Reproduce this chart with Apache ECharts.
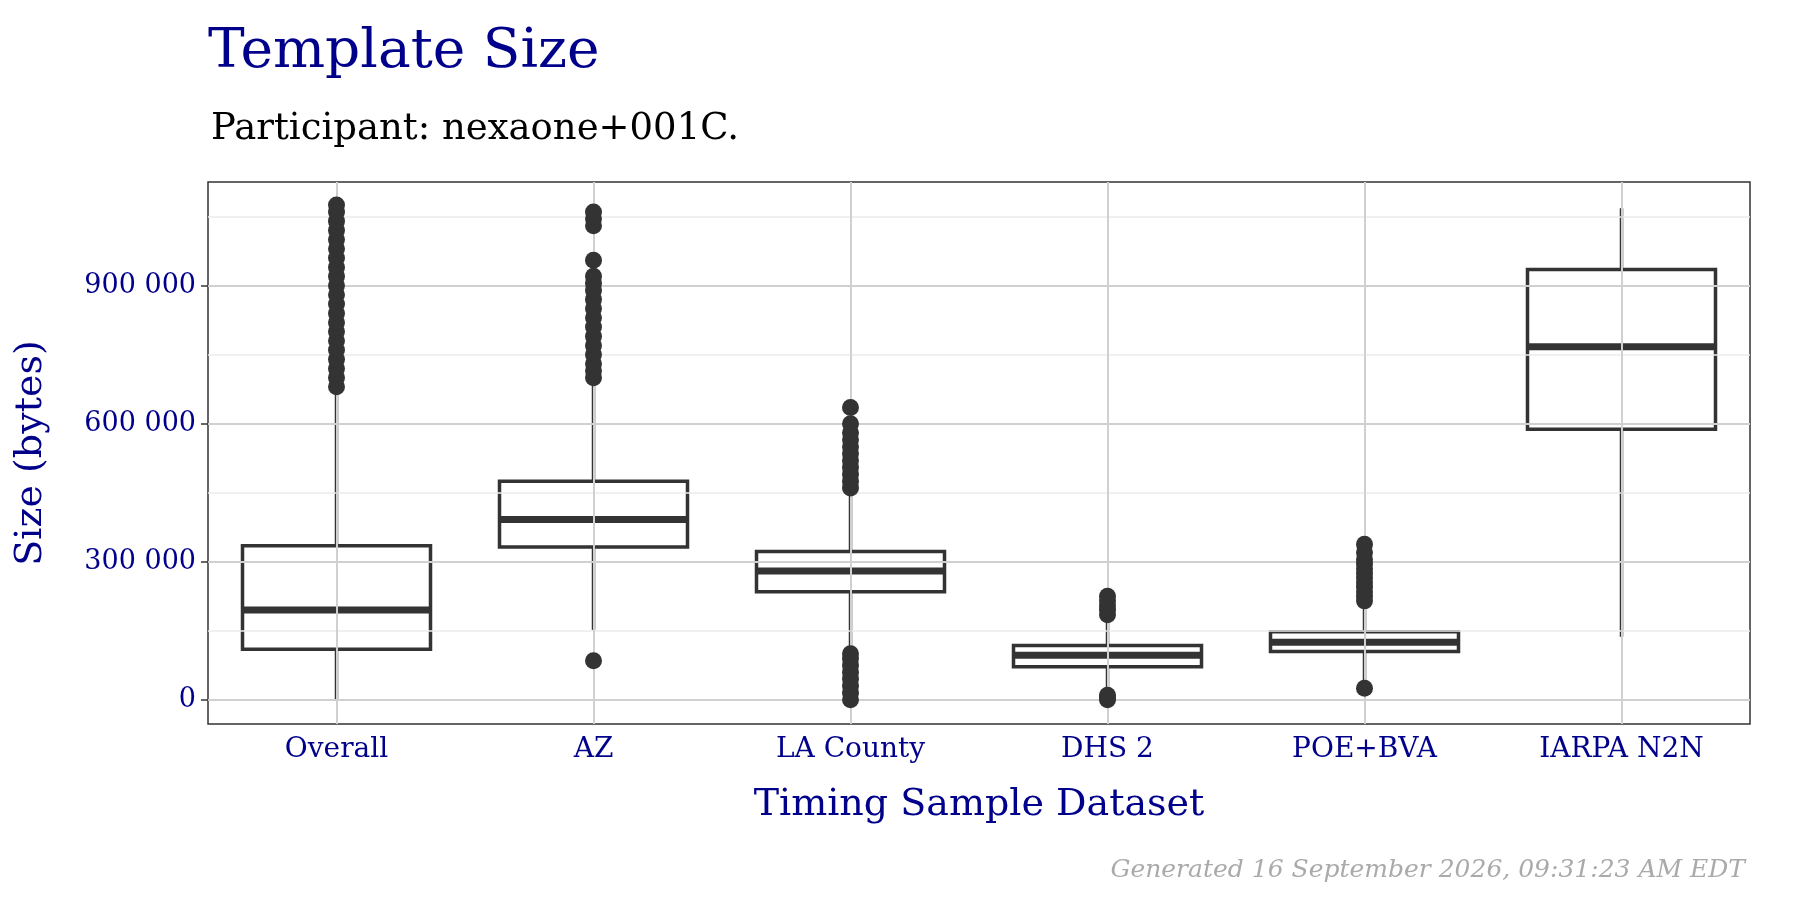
<!DOCTYPE html>
<html><head><meta charset="utf-8">
<script src="https://cdn.jsdelivr.net/npm/echarts@6/dist/echarts.min.js"></script>
<style>html,body{margin:0;padding:0;background:#fff}#c{width:1800px;height:900px}</style>
</head><body><div id="c"></div>
<script>
const categories = ["Overall","AZ","LA County","DHS 2","POE+BVA","IARPA N2N"];
// [lower whisker, Q1, median, Q3, upper whisker]
const boxStats = [
  [0,110000,195000,335000,670000],
  [152000,332000,392000,475000,690000],
  [105000,235000,280000,322000,455000],
  [12000,72000,97000,118000,180000],
  [40000,105000,125000,148000,210000],
  [137000,588000,767000,935000,1068000]
];
const outliersOverall = [680000,700000,720000,740000,760000,780000,800000,820000,840000,860000,880000,900000,920000,940000,960000,980000,1000000,1020000,1040000,1060000,1075000];
const outliersAZ = [85000,700000,715000,730000,750000,770000,790000,810000,830000,850000,870000,890000,905000,920000,955000,1030000,1045000,1060000];
const outliersLA = [0,15000,30000,45000,60000,75000,90000,100000,460000,475000,490000,505000,520000,535000,550000,565000,580000,600000,635000];
const outliersDHS = [0,5000,10000,185000,195000,205000,215000,225000];
const outliersPOE = [25000,215000,225000,235000,245000,255000,265000,275000,285000,295000,305000,320000,338000];
const outliersIARPA = [];
const yLabels = [0,300000,600000,900000];
const yMinor = [150000,450000,750000,1050000];

const outlierLists = [outliersOverall,outliersAZ,outliersLA,outliersDHS,outliersPOE,outliersIARPA];
const scatterData = [];
outlierLists.forEach((l,i)=>l.forEach(v=>scatterData.push([categories[i],v])));
const fmt = v => String(v).replace(/\B(?=(\d{3})+(?!\d))/g,' ');
const font = "DejaVu Serif";
const blue = "#00008B";
const HW = 94;

const chart = echarts.init(document.getElementById('c'));
chart.setOption({
  animation:false,
  title:[
    {text:"Template Size",left:203,top:20,textStyle:{fontFamily:font,fontSize:55,fontWeight:'normal',color:blue}},
    {text:"Participant: nexaone+001C.",left:206,top:106,textStyle:{fontFamily:font,fontSize:37,fontWeight:'normal',color:'#000'}},
    {text:"Generated 16 September 2026, 09:31:23 AM EDT",right:50,top:853,textStyle:{fontFamily:font,fontSize:25,fontStyle:'italic',fontWeight:'normal',color:'#aaaaaa'}}
  ],
  grid:{left:208,right:50,top:182,bottom:176,show:true,borderColor:'#333',borderWidth:1.5,backgroundColor:'#fff'},
  xAxis:{type:'category',data:categories,boundaryGap:true,
    axisLine:{show:false},axisTick:{alignWithLabel:true,length:7,lineStyle:{color:'#333',width:1.5}},
    axisLabel:{fontFamily:font,fontSize:28,color:blue,margin:12},
    splitLine:{show:false},
    name:"Timing Sample Dataset",nameLocation:'middle',nameGap:62,
    nameTextStyle:{fontFamily:font,fontSize:38,color:blue}},
  yAxis:{type:'value',min:-52500,max:1125000,
    axisLine:{show:false},
    axisTick:{show:true,customValues:yLabels,length:7,lineStyle:{color:'#333',width:1.5}},
    axisLabel:{customValues:yLabels,formatter:fmt,fontFamily:font,fontSize:27,color:blue,margin:12},
    splitLine:{show:false},
    name:"Size (bytes)",nameLocation:'middle',nameGap:158,
    nameTextStyle:{fontFamily:font,fontSize:38,color:blue}},
  series:[
    {type:'scatter',data:[],silent:true,z:1,
      markLine:{symbol:'none',silent:true,label:{show:false},animation:false,
        data:[
          ...yMinor.map(v=>({yAxis:v,lineStyle:{color:'#ebebeb',width:1.5,type:'solid'}})),
          ...yLabels.map(v=>({yAxis:v,lineStyle:{color:'#d0d0d0',width:2,type:'solid'}})),
          ...categories.map(c=>({xAxis:c,lineStyle:{color:'#d0d0d0',width:2,type:'solid'}}))
        ]}},
    {type:'custom',z:4,data:boxStats.map((b,i)=>[i,...b]),
      renderItem:(params,api)=>{
        const i=api.value(0);
        const c=k=>api.coord([i,api.value(k)]);
        const lo=c(1),q1=c(2),md=c(3),q3=c(4),hi=c(5);
        const x=lo[0];
        const st={stroke:'#333',lineWidth:3.5};
        return {type:'group',children:[
          {type:'line',shape:{x1:x,y1:lo[1],x2:x,y2:q1[1]},style:st},
          {type:'line',shape:{x1:x,y1:q3[1],x2:x,y2:hi[1]},style:st},
          {type:'rect',shape:{x:x-HW,y:q3[1],width:2*HW,height:q1[1]-q3[1]},style:{fill:'#fff',stroke:'#333',lineWidth:3.5}},
          {type:'line',shape:{x1:x-HW,y1:md[1],x2:x+HW,y2:md[1]},style:{stroke:'#333',lineWidth:7}}
        ]};
      }},
    {type:'scatter',data:scatterData,symbolSize:17,z:5,itemStyle:{color:'#333',opacity:1}}
  ]
});
</script></body></html>
